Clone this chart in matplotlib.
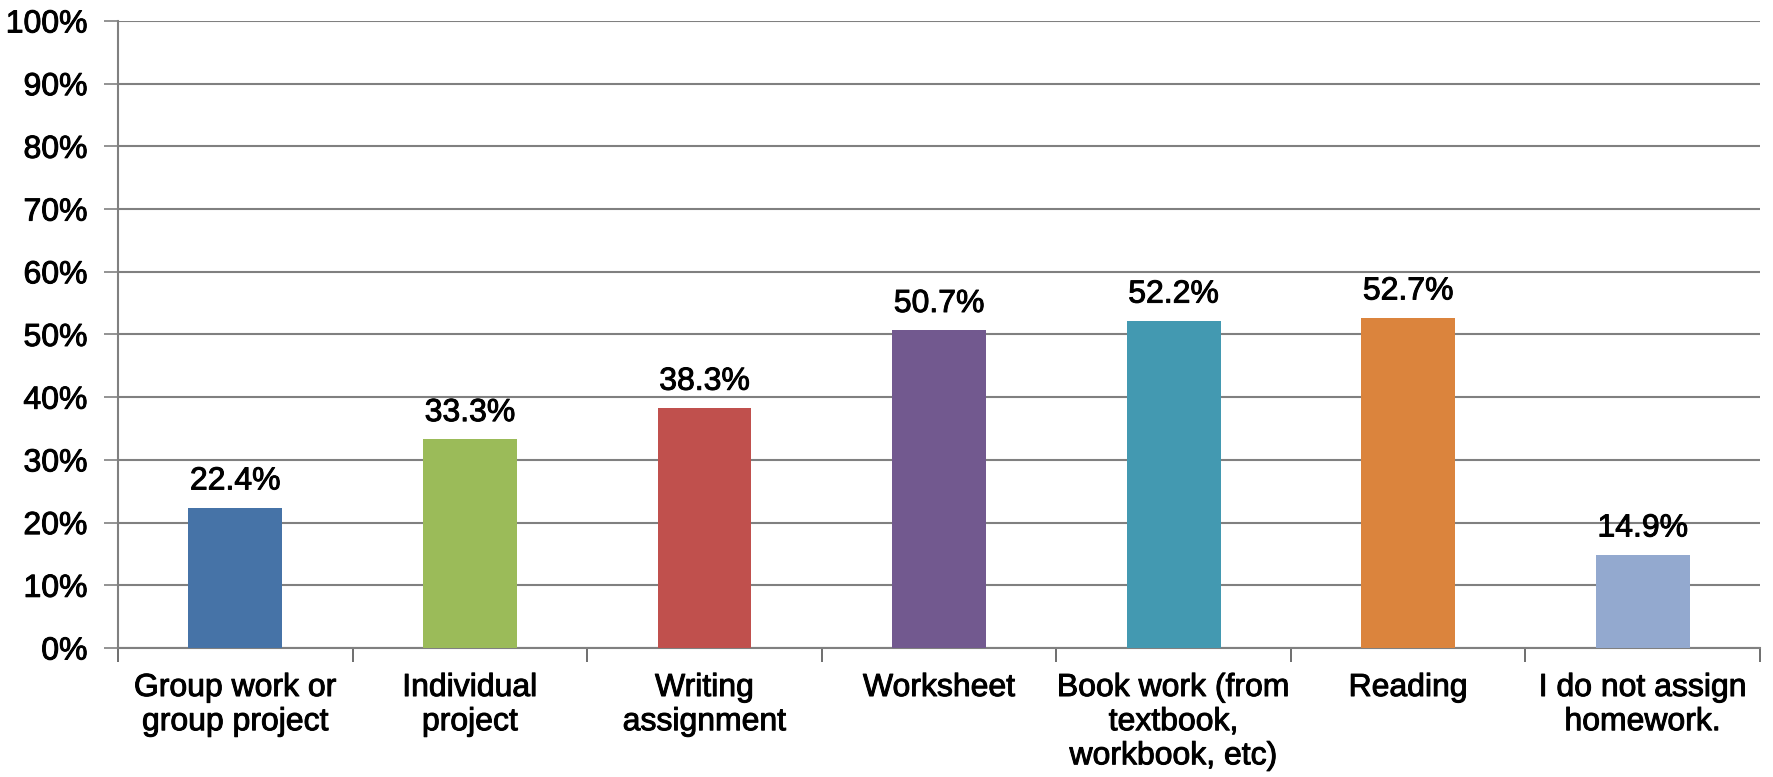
import matplotlib.pyplot as plt
import matplotlib.patheffects as pe
import numpy as np

categories = ['Group work or\ngroup project', 'Individual\nproject', 'Writing\nassignment',
              'Worksheet', 'Book work (from\ntextbook,\nworkbook, etc)', 'Reading',
              'I do not assign\nhomework.']
values = [22.4, 33.3, 38.3, 50.7, 52.2, 52.7, 14.9]
colors = ['#4673A7', '#9BBB59', '#C0504D', '#72598F', '#4399B1', '#DB843D', '#93A9CF']

plt.rcParams['font.family'] = ['Liberation Sans', 'DejaVu Sans']
# slightly heavier text, like the original rendering
thick = [pe.withStroke(linewidth=0.7, foreground='black')]

fig = plt.figure(figsize=(17.73, 7.77), dpi=100)
ax = fig.add_axes([0.0666, 0.166, 0.9261, 0.807])

x = np.arange(len(categories))
ax.bar(x, values, width=0.4, color=colors, zorder=3)
for xi, v in zip(x, values):
    ax.annotate(f'{v:.1f}%', (xi, v), xytext=(0, 8), textcoords='offset points',
                ha='center', va='bottom', fontsize=23, zorder=4, path_effects=thick)

ax.set_xlim(-0.5, len(categories) - 0.5)
ax.set_ylim(0, 100)
ax.set_yticks(np.arange(0, 101, 10))
ax.set_yticklabels([f'{t}%' for t in range(0, 101, 10)], fontsize=23, path_effects=thick)
ax.yaxis.grid(True, color='#808080', linewidth=1.5, zorder=0)

ax.set_xticks(x)
ax.set_xticklabels(categories, fontsize=23, linespacing=1.18, va='top', path_effects=thick)
ax.tick_params(axis='x', which='major', length=0, pad=18)
ax.set_xticks(np.arange(-0.5, len(categories), 1), minor=True)
ax.tick_params(axis='x', which='minor', length=10, width=1.2, color='#555555', direction='out')
ax.tick_params(axis='y', length=10, width=1.2, color='#808080', pad=12)

for s in ['top', 'right']:
    ax.spines[s].set_visible(False)
ax.spines['left'].set_color('#808080')
ax.spines['left'].set_linewidth(1.5)
ax.spines['bottom'].set_color('#808080')
ax.spines['bottom'].set_linewidth(1.5)

fig.savefig('out.png', dpi=100)
